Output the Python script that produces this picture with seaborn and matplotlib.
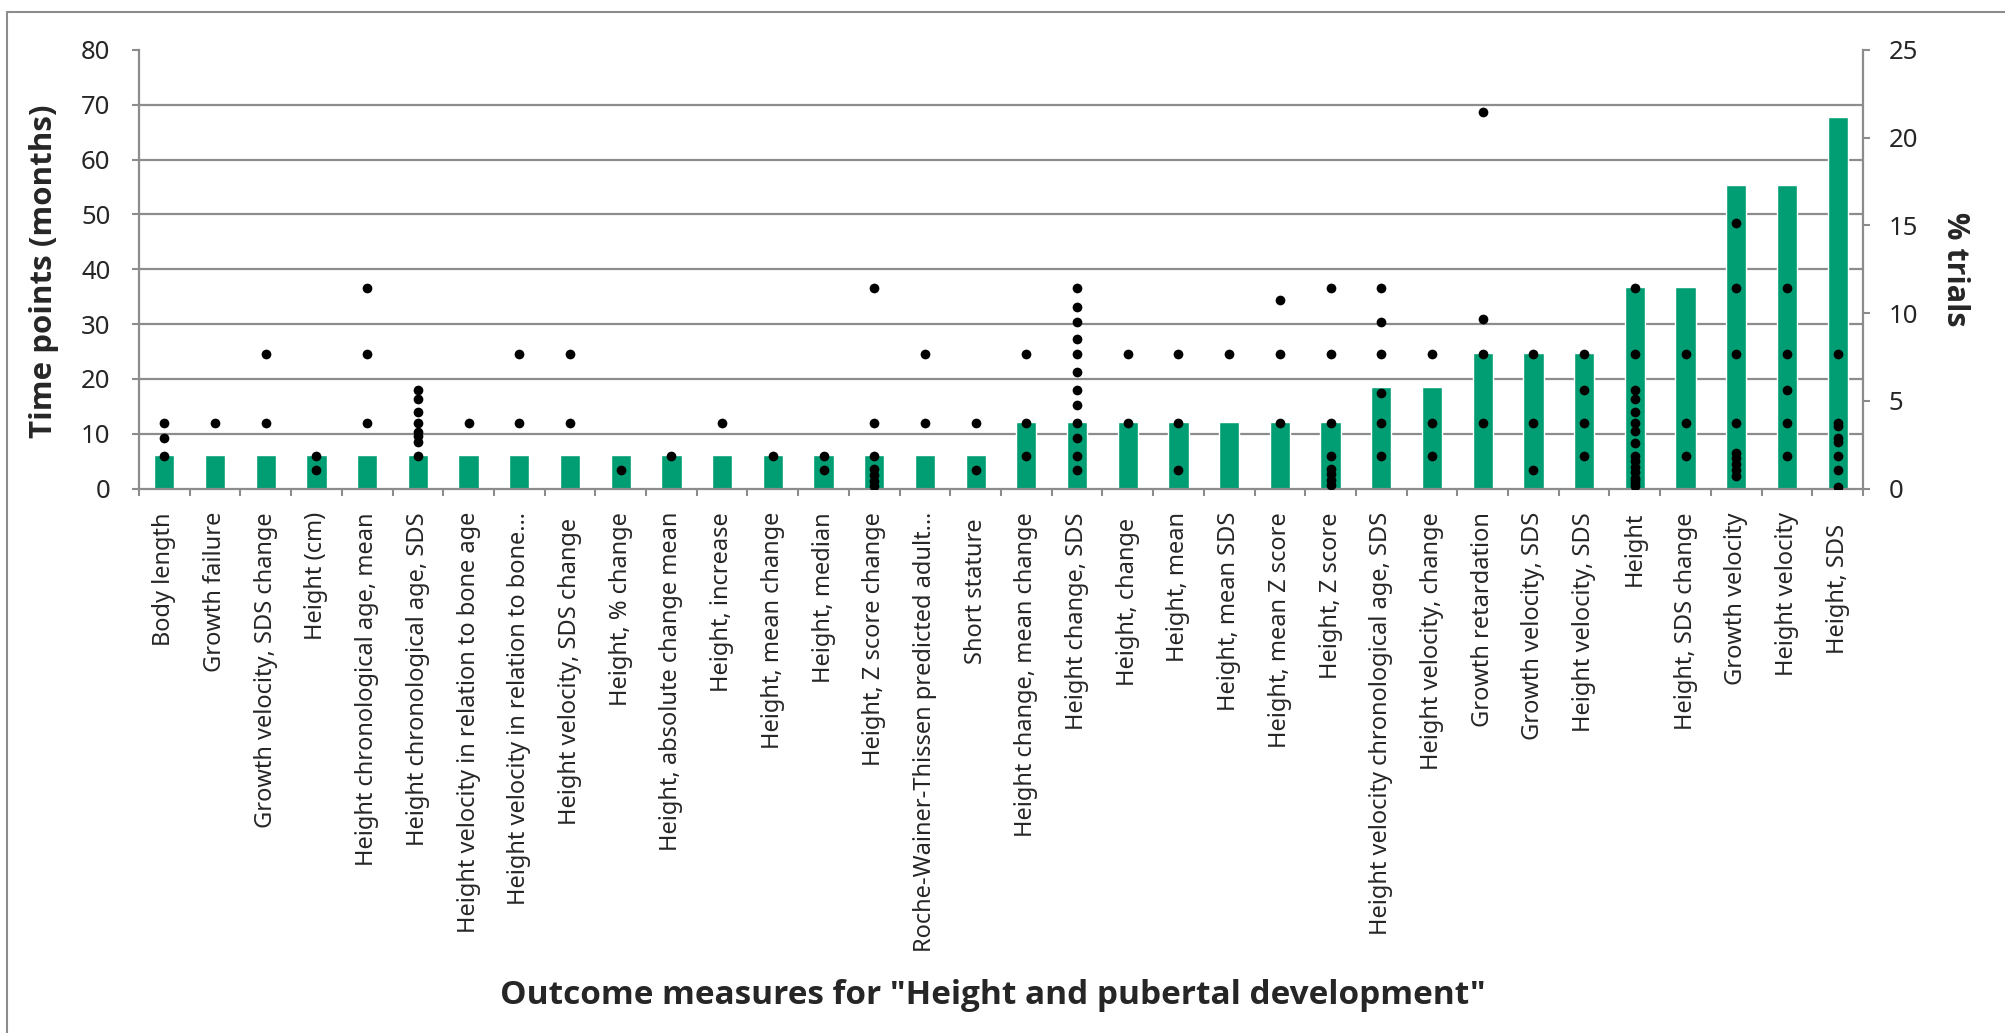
import numpy as np
import pandas as pd
import matplotlib
matplotlib.use("Agg")
import matplotlib.pyplot as plt
import seaborn as sns
from matplotlib.lines import Line2D
from matplotlib.ticker import FixedLocator

# outcome measures (x categories)
measures = [
    "Body length", "Growth failure", "Growth velocity, SDS change", "Height (cm)",
    "Height chronological age, mean", "Height chronological age, SDS",
    "Height velocity in relation to bone age", "Height velocity in relation to bone…",
    "Height velocity, SDS change ", "Height, % change", "Height, absolute change mean",
    "Height, increase", "Height, mean change", "Height, median", "Height, Z score change",
    "Roche-Wainer-Thissen predicted adult…", "Short stature ", "Height change, mean change",
    "Height change, SDS", "Height, change ", "Height, mean", "Height, mean SDS",
    "Height, mean Z score", "Height, Z score", "Height velocity chronological age, SDS",
    "Height velocity, change", "Growth retardation", "Growth velocity, SDS",
    "Height velocity, SDS", "Height", "Height, SDS change", "Growth velocity",
    "Height velocity", "Height, SDS  ",
]

# % of trials using each measure (right axis)
pct_trials = [
    1.9, 1.9, 1.9, 1.9, 1.9, 1.9, 1.9, 1.9, 1.9, 1.9, 1.9, 1.9, 1.9, 1.9, 1.9, 1.9, 1.9,
    3.8, 3.8, 3.8, 3.8, 3.8, 3.8, 3.8,
    5.8, 5.8,
    7.7, 7.7, 7.7,
    11.5, 11.5,
    17.3, 17.3,
    21.2,
]

# time points in months (left axis)
time_points = [
    [6, 9.2, 12],
    [12],
    [12, 24.5],
    [3.3, 6],
    [12, 24.5, 36.5],
    [6, 8.4, 9.5, 10.3, 12, 14, 16.3, 18],
    [12],
    [12, 24.5],
    [12, 24.5],
    [3.3],
    [6],
    [12],
    [6],
    [3.3, 6],
    [0.4, 1.4, 2.4, 3.5, 6, 12, 36.5],
    [12, 24.5],
    [3.3, 12],
    [6, 12, 24.5],
    [3.3, 6, 9.2, 12, 15.2, 18, 21.3, 24.5, 27.3, 30.4, 33.2, 36.5],
    [12, 24.5],
    [3.3, 12, 24.5],
    [24.5],
    [12, 24.5, 34.3],
    [0.6, 1.5, 2.6, 3.5, 6, 12, 24.5, 36.5],
    [6, 12, 17.4, 24.5, 30.4, 36.5],
    [6, 12, 24.5],
    [12, 24.5, 31, 68.6],
    [3.3, 12, 24.5],
    [6, 12, 18, 24.5],
    [0.5, 1, 1.5, 2, 3, 4, 5, 6, 8.3, 10.4, 12, 14, 16.3, 18, 24.5, 36.5],
    [6, 12, 24.5],
    [2.3, 3.4, 4.5, 5.6, 6.5, 12, 24.5, 36.5, 48.4],
    [6, 12, 18, 24.5, 36.5],
    [0.2, 3.3, 6, 8.4, 9.2, 11.4, 12, 24.5],
]

GREEN = "#029E73"
GREY = "#8C8C8C"
TITLE_FONT = ["Open Sans", "DejaVu Sans"]
W, H = 2005, 1033


def plot():
    sns.set_theme(style="white")
    plt.rcParams["font.family"] = ["Noto Sans", "DejaVu Sans"]

    bar_df = pd.DataFrame({"measure": measures, "pct": pct_trials})
    dot_df = pd.DataFrame(
        [(m, t) for m, ts in zip(measures, time_points) for t in ts],
        columns=["measure", "months"],
    )

    fig = plt.figure(figsize=(W / 100, H / 100), dpi=100)
    left, right, top, bottom = 139, 1863, 50, 488.5
    ax = fig.add_axes([left / W, 1 - bottom / H, (right - left) / W, (bottom - top) / H])
    ax2 = ax.twinx()
    ax.set_zorder(ax2.get_zorder() + 1)
    ax.patch.set_visible(False)

    # bars on the right axis
    sns.barplot(data=bar_df, x="measure", y="pct", order=measures, color=GREEN,
                saturation=1, width=0.4, ax=ax2)
    # dots on the left axis
    sns.stripplot(data=dot_df, x="measure", y="months", order=measures, jitter=False,
                  color="black", size=7, linewidth=0, ax=ax)

    ax.set_xlim(-0.5, len(measures) - 0.5)
    ax.set_ylim(0, 80)
    ax2.set_ylim(0, 25)

    # horizontal gridlines follow the left axis but sit behind the bars
    ax2.yaxis.set_minor_locator(FixedLocator(np.linspace(0, 25, 9)))
    ax2.set_axisbelow(True)
    ax2.grid(which="minor", axis="y", color=GREY, lw=1.6)
    ax2.grid(which="major", visible=False)
    ax2.tick_params(axis="y", which="minor", length=0)

    for sp in ["top", "right"]:
        ax.spines[sp].set_visible(False)
    for sp in ["left", "bottom"]:
        ax.spines[sp].set_color(GREY)
        ax.spines[sp].set_linewidth(1.6)
    for sp in ["top", "left", "bottom"]:
        ax2.spines[sp].set_visible(False)
    ax2.spines["right"].set_color(GREY)
    ax2.spines["right"].set_linewidth(1.6)

    ax.set_yticks(range(0, 81, 10))
    ax.tick_params(axis="y", length=5, width=1.5, color=GREY, direction="out",
                   pad=15.5, labelsize=18.5, left=True)
    ax2.set_yticks(range(0, 26, 5))
    ax2.tick_params(axis="y", which="major", length=5, width=1.5, color=GREY,
                    direction="out", pad=13.5, labelsize=18.5, right=True)

    ax.set_xticks(range(len(measures)))
    ax.set_xticklabels(measures, rotation=90, fontsize=17)
    ax.set_xticks(np.arange(-0.5, len(measures), 1), minor=True)
    ax.tick_params(axis="x", which="major", length=0, pad=17)
    ax.tick_params(axis="x", which="minor", length=5, width=1.5, color=GREY,
                   direction="out", bottom=True)

    ax.set_xlabel("")
    ax.set_ylabel("")
    ax2.set_xlabel("")
    ax2.set_ylabel("")

    fig.text(44 / W, 1 - 271 / H, "Time points (months)", rotation=90, ha="center",
             va="center", fontsize=22.5, fontweight="bold", family=TITLE_FONT)
    fig.text(1955 / W, 1 - 269 / H, "% trials", rotation=270, ha="center",
             va="center", fontsize=22, fontweight="bold", family=TITLE_FONT)
    fig.text(993 / W, 1 - 995 / H,
             'Outcome measures for "Height and pubertal development"',
             ha="center", va="center", fontsize=24, fontweight="bold", family=TITLE_FONT)

    # chart area frame (only the left and top edges fall inside the picture)
    fig.add_artist(Line2D([7 / W, 7 / W], [0, 1 - 12 / H], transform=fig.transFigure,
                          color=GREY, lw=1.5))
    fig.add_artist(Line2D([7 / W, 1], [1 - 12 / H, 1 - 12 / H], transform=fig.transFigure,
                          color=GREY, lw=1.5))

    fig.savefig("out.png", dpi=100)
    plt.close(fig)


if __name__ == "__main__":
    plot()
